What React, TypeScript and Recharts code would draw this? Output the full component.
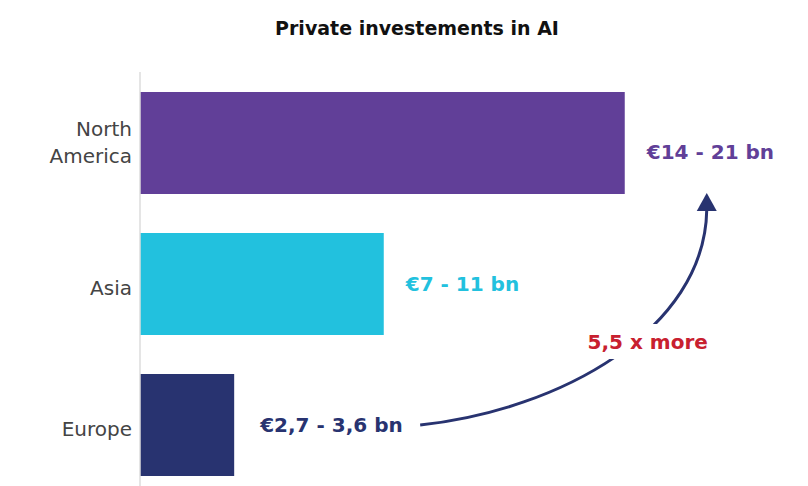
import React from 'react';
import { BarChart, Bar, XAxis, YAxis, Cell, LabelList } from 'recharts';

const categories = ['North America', 'Asia', 'Europe'];
const values = [17.5, 8.8, 3.4];
const rangeLabels = ['€14 - 21 bn', '€7 - 11 bn', '€2,7 - 3,6 bn'];
const colors = ['#613F98', '#22C1DE', '#283370'];
const multiplierLabel = '5,5 x more';
const title = 'Private investements in AI';

const data = categories.map((c, i) => ({ region: c, value: values[i], label: rangeLabels[i] }));

const WIDTH = 800;
const HEIGHT = 487;
const MARGIN = { top: 64, right: 114, left: 0, bottom: 0 };
const BAR_SIZE = 102;
const BAND = (HEIGHT - MARGIN.top - MARGIN.bottom) / categories.length;
const FONT = '"DejaVu Sans", sans-serif';

const RegionTick = (props: any) => {
  const { x, y, payload } = props;
  const words = String(payload.value).split(' ');
  const lh = 27;
  const start = -((words.length - 1) * lh) / 2;
  const shift = words.length === 1 ? 11 : 7;
  return (
    <text x={x} y={y} textAnchor="end" fill="#444" fontSize={20} fontFamily={FONT}>
      {words.map((w, i) => (
        <tspan key={i} x={x} dy={i === 0 ? start + shift : lh}>{w}</tspan>
      ))}
    </text>
  );
};

const ValueLabel = (props: any) => {
  const { x, y, width, height, index, value } = props;
  const last = categories.length - 1;
  const endX = x + width;
  const cy = y + height / 2;
  const lx = endX + (index === last ? 26 : 22);
  const dy = index === 0 ? 9 : 0;
  const els: any[] = [
    <text key="t" x={lx} y={cy + dy} dy="0.35em" fill={colors[index]} fontSize={20} fontWeight={700} fontFamily={FONT}>
      {rangeLabels[index]}
    </text>,
  ];
  if (index === last) {
    const pxPerUnit = width / value;
    const nx = x + values[0] * pxPerUnit;
    const nb = cy - last * BAND + BAR_SIZE / 2;
    const sx = endX + 186;
    const sy = cy;
    const tx = nx + 82;
    const ty = nb - 1;
    const baseY = ty + 17;
    const path = `M ${sx} ${sy} C ${sx + 140} ${sy - 15}, ${tx - 2} ${sy - 95}, ${tx} ${baseY}`;
    const mx = tx - 59;
    const my = ty + 149;
    els.push(
      <g key="arrow">
        <path d={path} fill="none" stroke="#283370" strokeWidth={3} />
        <polygon points={`${tx},${ty} ${tx - 10},${baseY + 1} ${tx + 10},${baseY + 1}`} fill="#283370" />
        <rect x={mx - 66} y={my - 18} width={132} height={35} fill="#fff" />
        <text x={mx} y={my} dy="0.35em" textAnchor="middle" fill="#C8202F" fontSize={20} fontWeight={700} fontFamily={FONT}>
          {multiplierLabel}
        </text>
      </g>
    );
  }
  return <g>{els}</g>;
};

export default function App() {
  return (
    <div style={{ position: 'relative', width: WIDTH, height: HEIGHT }}>
      <div
        style={{
          position: 'absolute',
          top: 8,
          left: 0,
          width: 818,
          textAlign: 'center',
          fontFamily: FONT,
          fontWeight: 700,
          fontSize: 19,
          lineHeight: '24px',
          color: '#111',
        }}
      >
        {title}
      </div>
      <BarChart width={WIDTH} height={HEIGHT} data={data} layout="vertical" margin={MARGIN}>
        <XAxis type="number" domain={[0, 20]} hide />
        <YAxis
          type="category"
          dataKey="region"
          width={132}
          tickLine={false}
          axisLine={{ stroke: '#ddd', strokeWidth: 1.5 }}
          tick={<RegionTick />}
          interval={0}
        />
        <Bar dataKey="value" barSize={BAR_SIZE} isAnimationActive={false}>
          {data.map((d, i) => (
            <Cell key={d.region} fill={colors[i]} />
          ))}
          <LabelList dataKey="value" content={<ValueLabel />} />
        </Bar>
      </BarChart>
    </div>
  );
}
